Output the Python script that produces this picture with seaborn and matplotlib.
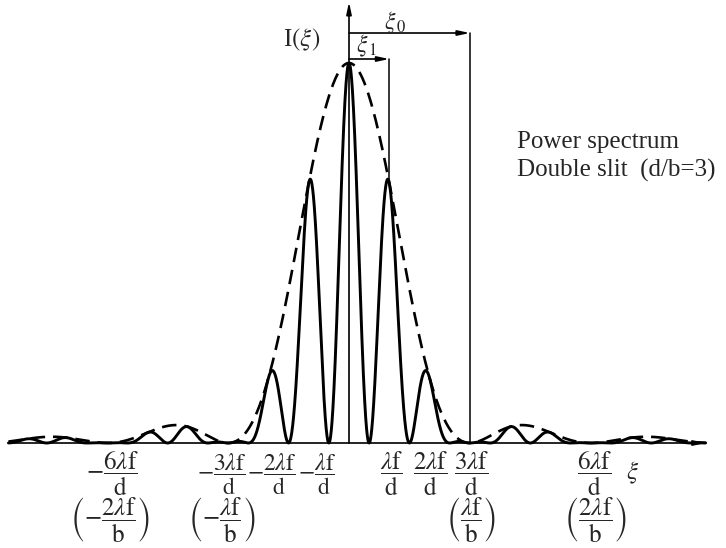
import numpy as np
import pandas as pd
import matplotlib
matplotlib.use("Agg")
import matplotlib.pyplot as plt
import seaborn as sns

# double slit power spectrum, d/b = 3, xi in units of lambda*f/d
d_over_b = 3
xi = np.linspace(-8.45, 8.85, 4000)
envelope = np.sinc(xi / d_over_b) ** 2
spectrum = envelope * np.cos(np.pi * xi) ** 2

df = pd.DataFrame({'xi': xi, 'spectrum': spectrum, 'envelope': envelope})

# tick labels under the axis
top_pos = [-6, -3, -2, -1, 1, 2, 3, 6]
top_labels = [r'$-\dfrac{6\lambda\mathrm{f}}{\mathrm{d}}$',
              r'$-\dfrac{3\lambda\mathrm{f}}{\mathrm{d}}$',
              r'$-\dfrac{2\lambda\mathrm{f}}{\mathrm{d}}$',
              r'$-\dfrac{\lambda\mathrm{f}}{\mathrm{d}}$',
              r'$\dfrac{\lambda\mathrm{f}}{\mathrm{d}}$',
              r'$\dfrac{2\lambda\mathrm{f}}{\mathrm{d}}$',
              r'$\dfrac{3\lambda\mathrm{f}}{\mathrm{d}}$',
              r'$\dfrac{6\lambda\mathrm{f}}{\mathrm{d}}$']
bottom_pos = [-6, -3, 3, 6]
bottom_labels = [r'$\left(-\dfrac{2\lambda\mathrm{f}}{\mathrm{b}}\right)$',
                 r'$\left(-\dfrac{\lambda\mathrm{f}}{\mathrm{b}}\right)$',
                 r'$\left(\dfrac{\lambda\mathrm{f}}{\mathrm{b}}\right)$',
                 r'$\left(\dfrac{2\lambda\mathrm{f}}{\mathrm{b}}\right)$']
xi0 = 3
xi1 = 1

sns.set_style("white")
plt.rcParams['font.family'] = 'serif'
plt.rcParams['font.serif'] = ['Liberation Serif', 'DejaVu Serif']
plt.rcParams['mathtext.fontset'] = 'stix'

fig = plt.figure(figsize=(7.26, 5.48), dpi=100)
ax = fig.add_axes([0, 0, 1, 1])

# pixel layout: center 349 px, 40.3 px per unit, baseline at 443 px, peak 380 px tall
ux, cx, base, hy = 40.3, 349, 443, 380
ax.set_xlim(-cx / ux, (726 - cx) / ux)
ax.set_ylim(-(548 - base) / hy, base / hy)
ax.axis('off')


def py(p):
    # pixel row -> data y
    return (base - p) / hy


def px(p):
    # pixel column -> data x
    return (p - cx) / ux


sns.lineplot(data=df, x='xi', y='spectrum', ax=ax, color='black', lw=2.1)
sns.lineplot(data=df, x='xi', y='envelope', ax=ax, color='black', lw=1.9,
             linestyle=(0, (5.5, 3)))

arrow = dict(arrowstyle='-|>,head_length=0.7,head_width=0.15', color='black', lw=1.2,
             shrinkA=0, shrinkB=0)
# horizontal axis
ax.annotate('', xy=(8.85, 0), xytext=(-8.45, 0), arrowprops=arrow)
# vertical axis
ax.annotate('', xy=(0, py(2)), xytext=(0, 0), arrowprops=arrow)

# xi0 and xi1 markers
ax.annotate('', xy=(xi0, py(33)), xytext=(0, py(33)), arrowprops=arrow)
ax.plot([xi0, xi0], [py(33), 0], color='black', lw=1.1)
ax.annotate('', xy=(xi1, py(59)), xytext=(0, py(59)), arrowprops=arrow)
ax.plot([xi1, xi1], [py(59), np.sinc(xi1 / d_over_b) ** 2], color='black', lw=1.1)
ax.text(px(395), py(23), r'$\xi_{\,0}$', fontsize=17, ha='center', va='center')
ax.text(px(367), py(46), r'$\xi_{\,1}$', fontsize=17, ha='center', va='center')
ax.text(px(320), py(40), r'I$(\xi)$', fontsize=18, ha='right', va='center')

# label centres in pixels (the fractions sit slightly off the tick positions)
top_px = [112, 222, 272, 317, 392, 431, 472, 595]
top_size = [18, 17, 17, 17, 18, 18, 18, 18]
for p, size, lab in zip(top_px, top_size, top_labels):
    ax.text(px(p), py(474), lab, fontsize=size, ha='center', va='center')
bottom_px = [110, 222, 471, 595]
for p, lab in zip(bottom_px, bottom_labels):
    ax.text(px(p), py(520), lab, fontsize=18, ha='center', va='center')
ax.text(px(633), py(473), r'$\xi$', fontsize=18, ha='center', va='center')

ax.text(px(517), py(142), 'Power spectrum', fontsize=18, ha='left', va='center')
ax.text(px(517), py(170), 'Double slit  (d/b=3)', fontsize=18, ha='left', va='center')

fig.savefig('out.png', dpi=100, facecolor='white')
